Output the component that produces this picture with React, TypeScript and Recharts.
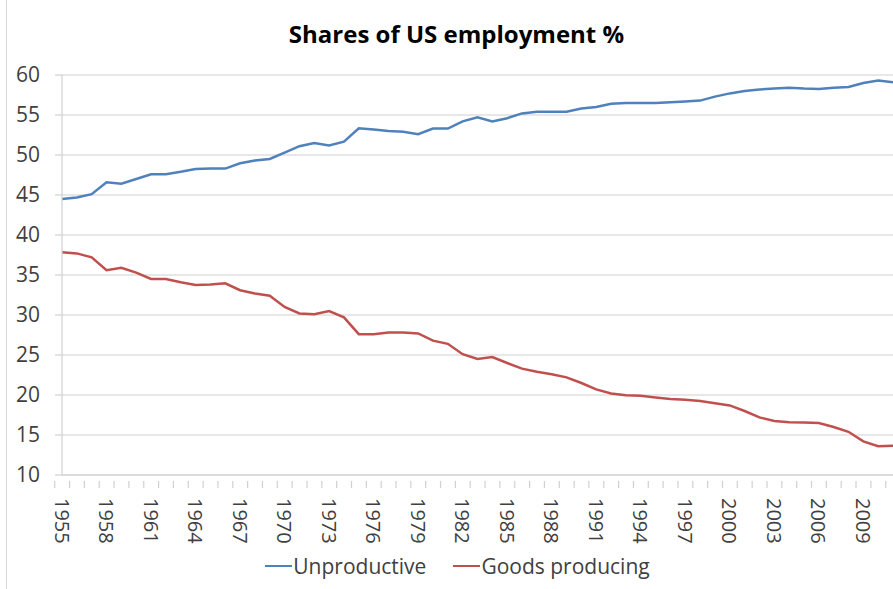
import React from "react";
import { LineChart, Line, XAxis, YAxis, CartesianGrid, Legend } from "recharts";

const years = [
  "1955", "1956", "1957", "1958", "1959", "1960", "1961", "1962", "1963", "1964",
  "1965", "1966", "1967", "1968", "1969", "1970", "1971", "1972", "1973", "1974",
  "1975", "1976", "1977", "1978", "1979", "1980", "1981", "1982", "1983", "1984",
  "1985", "1986", "1987", "1988", "1989", "1990", "1991", "1992", "1993", "1994",
  "1995", "1996", "1997", "1998", "1999", "2000", "2001", "2002", "2003", "2004",
  "2005", "2006", "2007", "2008", "2009", "2010", "2011",
];

const unproductive = [
  44.5, 44.7, 45.1, 46.6, 46.4, 47.0, 47.6, 47.6, 47.9, 48.25,
  48.3, 48.3, 48.96, 49.3, 49.5, 50.3, 51.1, 51.5, 51.2, 51.67,
  53.33, 53.2, 53.0, 52.9, 52.6, 53.3, 53.3, 54.2, 54.7, 54.2,
  54.6, 55.2, 55.4, 55.4, 55.4, 55.8, 56.0, 56.4, 56.5, 56.5,
  56.5, 56.6, 56.7, 56.8, 57.3, 57.7, 58.0, 58.2, 58.3, 58.4,
  58.3, 58.25, 58.4, 58.5, 59.0, 59.3, 59.1,
];

const goodsProducing = [
  37.83, 37.7, 37.2, 35.6, 35.9, 35.3, 34.5, 34.5, 34.1, 33.75,
  33.8, 33.96, 33.1, 32.7, 32.4, 31.0, 30.2, 30.1, 30.5, 29.7,
  27.6, 27.6, 27.8, 27.8, 27.7, 26.8, 26.4, 25.1, 24.5, 24.75,
  24.0, 23.3, 22.9, 22.6, 22.2, 21.5, 20.7, 20.2, 19.96, 19.9,
  19.7, 19.5, 19.4, 19.25, 18.96, 18.7, 18.0, 17.2, 16.75, 16.6,
  16.55, 16.5, 16.0, 15.4, 14.2, 13.6, 13.65,
];

const yTicks = [10, 15, 20, 25, 30, 35, 40, 45, 50, 55, 60];

const seriesNames = ["Unproductive", "Goods producing"];
const seriesColors = ["#4F81BD", "#C0504D"];

const data = years.map((y, i) => ({
  year: y,
  unproductive: unproductive[i],
  goods: goodsProducing[i],
}));

const FONT = "'Open Sans', Lato, sans-serif";
const TEXT = "#404040";
const GRID = "#d0d0d0";

const XTick = (props: any) => {
  const { x, y, payload, index, width } = props;
  const half = width / data.length / 2;
  const showLabel = index % 3 === 0;
  return (
    <g>
      <line x1={x - half} x2={x - half} y1={y - 2} y2={y + 5} stroke={GRID} strokeWidth={1.2} />
      {showLabel && (
        <text
          x={0}
          y={0}
          transform={`translate(${x}, ${y + 15}) rotate(90)`}
          textAnchor="start"
          dominantBaseline="central"
          fontSize={20}
          fontFamily={FONT}
          fill={TEXT}
        >
          {payload.value}
        </text>
      )}
    </g>
  );
};

const LegendContent = () => (
  <div
    style={{
      display: "flex",
      justifyContent: "center",
      alignItems: "center",
      height: 30,
      fontFamily: FONT,
      fontSize: 21,
      color: TEXT,
      paddingLeft: 22,
      lineHeight: "30px",
    }}
  >
    {seriesNames.map((n, i) => (
      <div key={n} style={{ display: "flex", alignItems: "center", marginRight: i === 0 ? 27 : 0 }}>
        <div style={{ width: 27, height: 2.5, background: seriesColors[i], marginRight: 1 }} />
        <span>{n}</span>
      </div>
    ))}
  </div>
);

export default function App() {
  return (
    <div style={{ position: "absolute", left: 0, top: 0, width: 893, height: 589, background: "#fff" }}>
      <div style={{ position: "absolute", left: 6, top: 0, width: 1, height: 589, background: "#d9d9d9" }} />
      <div
        style={{
          position: "absolute",
          top: 17,
          left: 0,
          width: 893,
          textAlign: "center",
          fontFamily: FONT,
          fontWeight: "bold",
          fontSize: 24,
          color: "#000",
          paddingLeft: 20,
          boxSizing: "border-box",
        }}
      >
        Shares of US employment %
      </div>
      <LineChart
        width={893}
        height={589}
        data={data}
        margin={{ top: 75, right: 0, left: 0, bottom: 8 }}
      >
        <CartesianGrid vertical={false} stroke={GRID} strokeWidth={1.2} />
        <XAxis
          dataKey="year"
          interval={0}
          height={76}
          tick={<XTick />}
          tickLine={false}
          axisLine={{ stroke: GRID, strokeWidth: 1.2 }}
        />
        <YAxis
          domain={[10, 60]}
          ticks={yTicks}
          width={62}
          tickSize={7}
          tickMargin={15}
          tickLine={{ stroke: GRID, strokeWidth: 1.2 }}
          axisLine={{ stroke: GRID, strokeWidth: 1.2 }}
          tick={{ fontSize: 21, fontFamily: FONT, fill: TEXT }}
        />
        <Legend verticalAlign="bottom" content={<LegendContent />} />
        <Line
          type="linear"
          dataKey="unproductive"
          name={seriesNames[0]}
          stroke={seriesColors[0]}
          strokeWidth={2.5}
          dot={false}
          isAnimationActive={false}
        />
        <Line
          type="linear"
          dataKey="goods"
          name={seriesNames[1]}
          stroke={seriesColors[1]}
          strokeWidth={2.5}
          dot={false}
          isAnimationActive={false}
        />
      </LineChart>
    </div>
  );
}
